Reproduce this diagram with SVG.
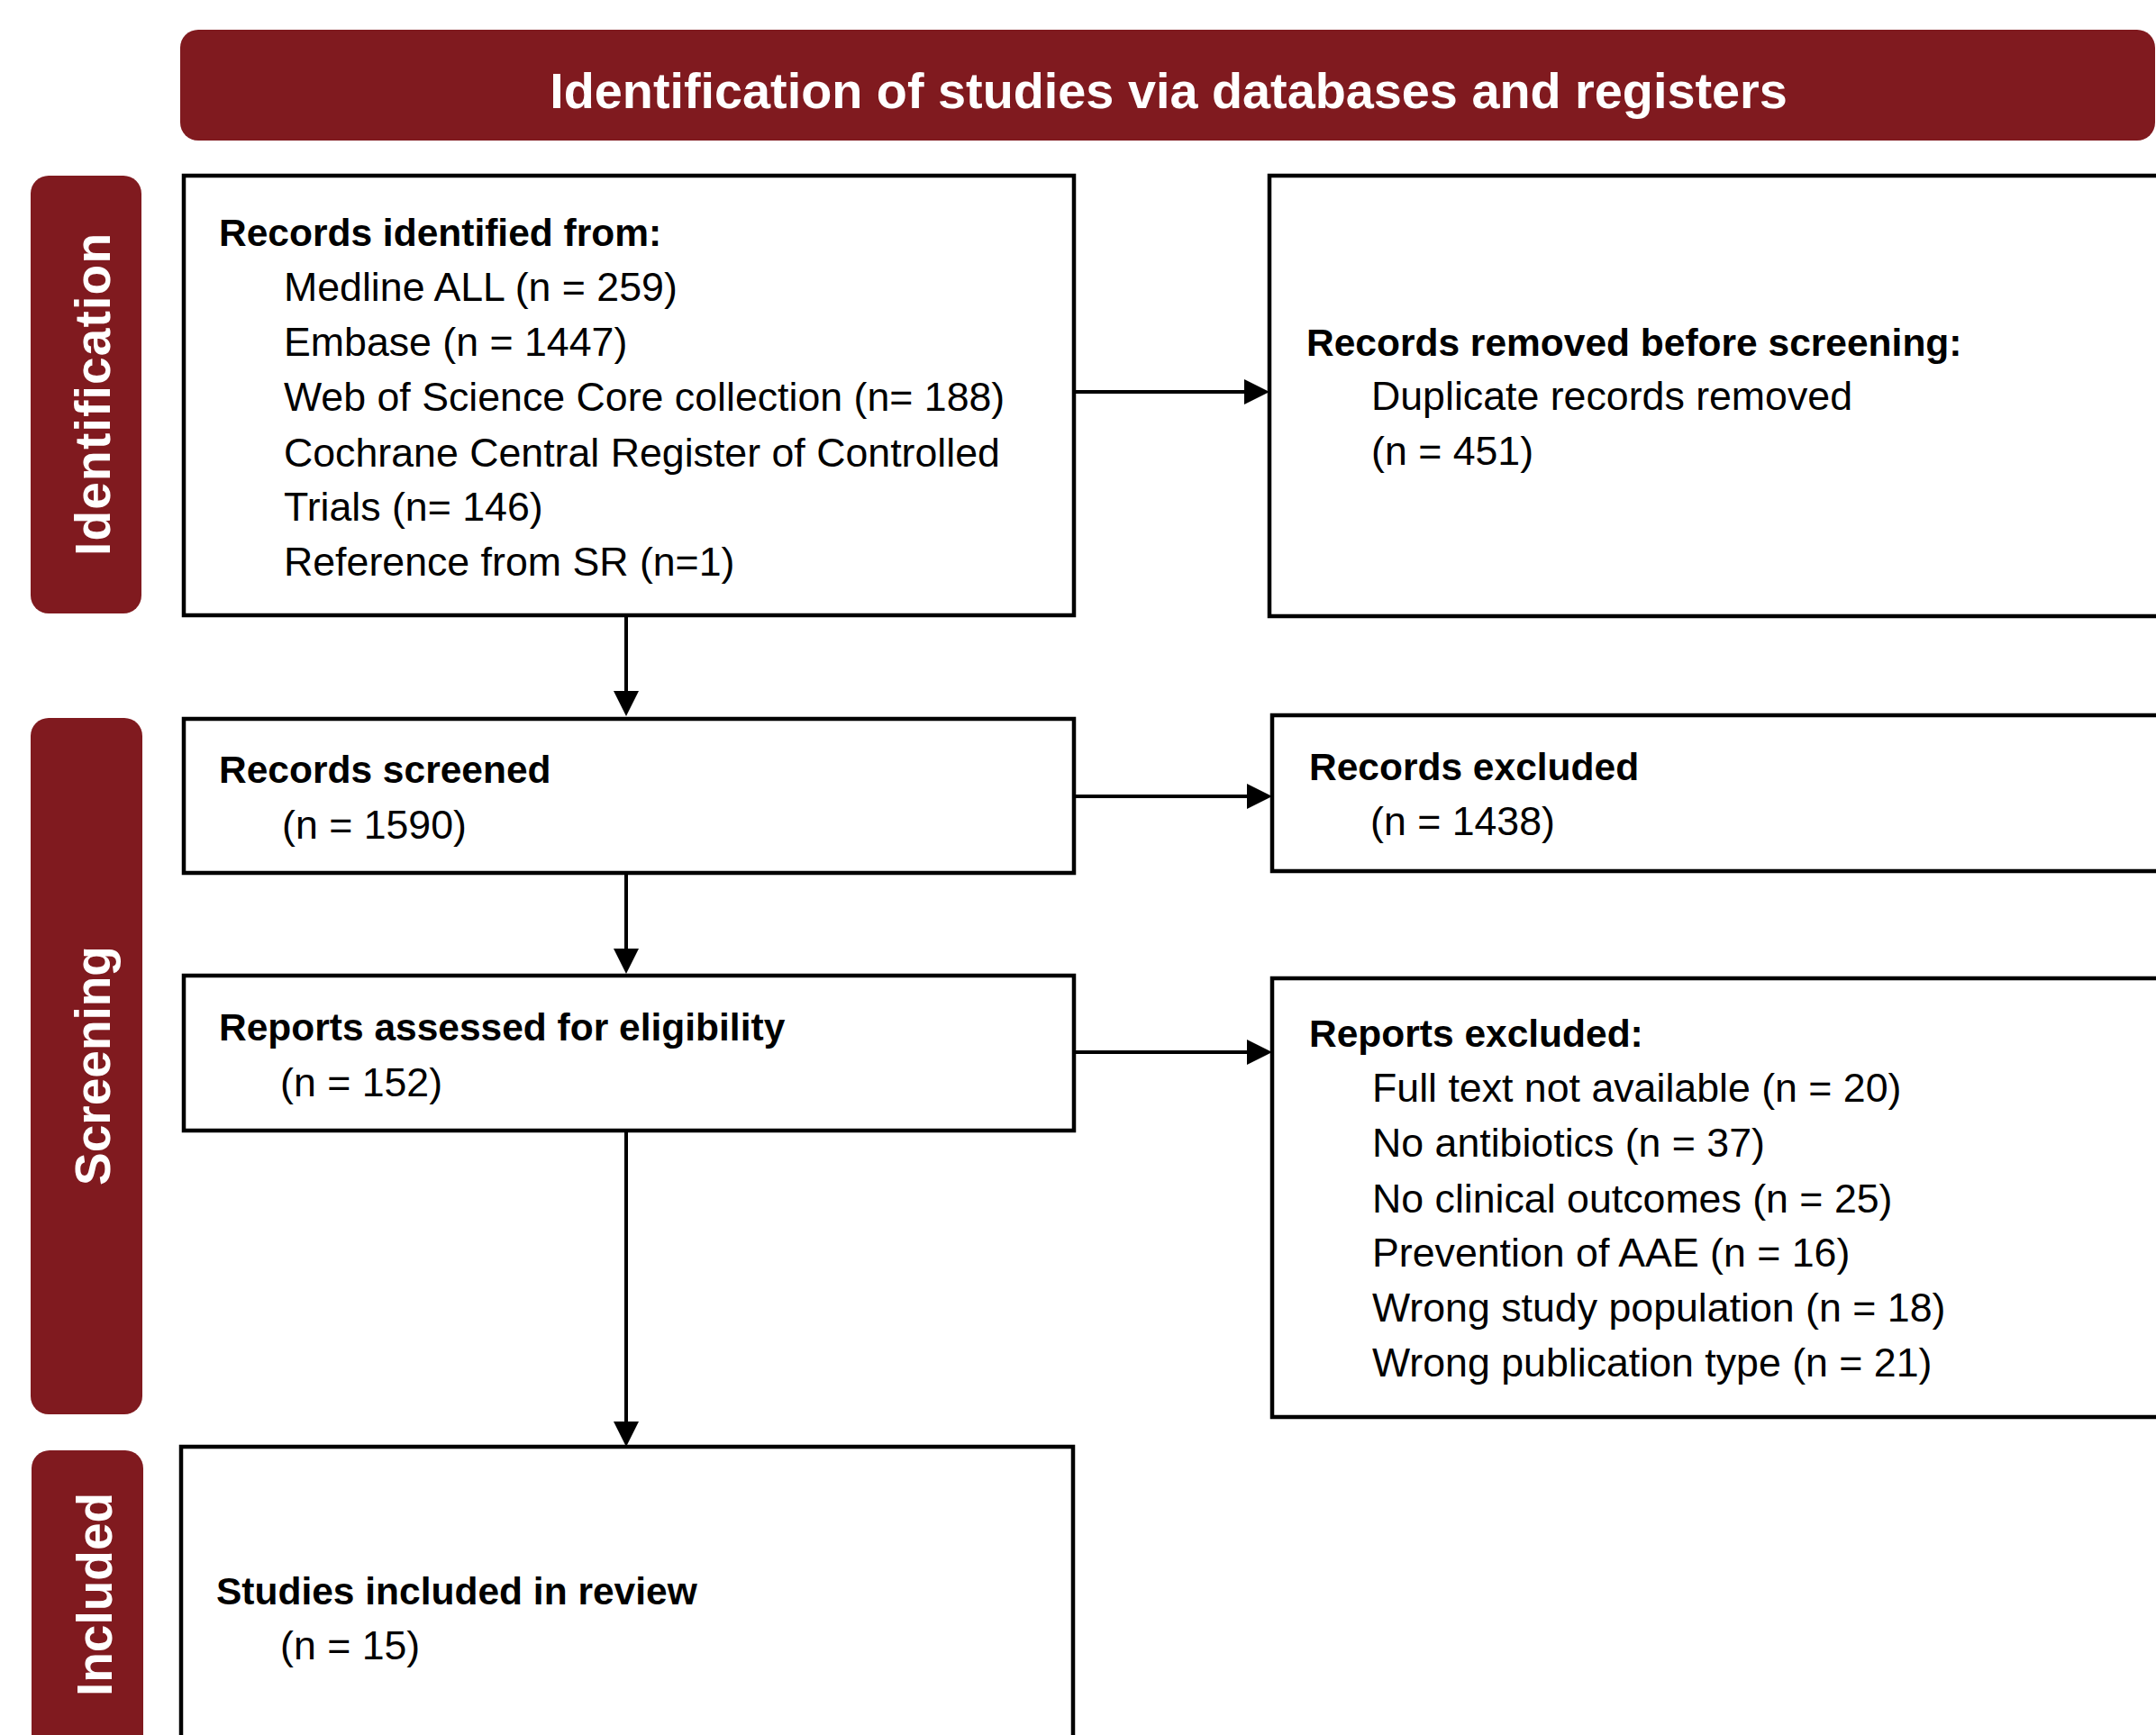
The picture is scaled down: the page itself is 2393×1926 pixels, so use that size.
<svg xmlns="http://www.w3.org/2000/svg" width="2393" height="1926" viewBox="0 0 2393 1926">
<style>
.bar{fill:#801A1F;}
.box{fill:#fff;stroke:#000;stroke-width:4.5;}
.conn{fill:none;stroke:#000;stroke-width:4;}
.t{font-family:"Liberation Sans",Arial,sans-serif;font-size:44.7px;fill:#000;}
.b{font-family:"Liberation Sans",Arial,sans-serif;font-size:42.5px;font-weight:bold;fill:#000;}
.title{font-family:"Liberation Sans",Arial,sans-serif;font-size:55.8px;font-weight:bold;fill:#fff;}
.side{font-family:"Liberation Sans",Arial,sans-serif;font-size:55px;font-weight:bold;fill:#fff;}
</style>
<defs>
<marker id="arrow" markerUnits="userSpaceOnUse" markerWidth="30" markerHeight="30" refX="18" refY="14" orient="auto">
<path d="M0,0 L28,14 L0,28 Z" fill="#000"/>
</marker>
</defs>
<rect width="2393" height="1926" fill="#fff"/>

<g id="header">
<rect class="bar" x="200" y="33" width="2192" height="123" rx="20"/>
<text class="title" x="1297" y="120" text-anchor="middle">Identification of studies via databases and registers</text>
</g>

<g id="phase-identification">
<rect class="bar" x="34" y="195" width="123" height="486" rx="20"/>
<text class="side" transform="translate(122,438) rotate(-90)" text-anchor="middle" textLength="358" lengthAdjust="spacing">Identification</text>
</g>
<g id="phase-screening">
<rect class="bar" x="34" y="797" width="124" height="773" rx="20"/>
<text class="side" transform="translate(122,1183) rotate(-90)" text-anchor="middle">Screening</text>
</g>
<g id="phase-included">
<rect class="bar" x="35" y="1610" width="124" height="340" rx="20"/>
<text class="side" transform="translate(124,1770) rotate(-90)" text-anchor="middle">Included</text>
</g>

<g id="records-identified">
<rect class="box" x="204" y="195" width="988" height="488"/>
<text class="b" x="243" y="273">Records identified from:</text>
<text class="t" x="315" y="334">Medline ALL (n = 259)</text>
<text class="t" x="315" y="395">Embase (n = 1447)</text>
<text class="t" x="315" y="456">Web of Science Core collection (n= 188)</text>
<text class="t" x="315" y="518">Cochrane Central Register of Controlled</text>
<text class="t" x="315" y="578">Trials (n= 146)</text>
<text class="t" x="315" y="639">Reference from SR (n=1)</text>
</g>

<g id="records-removed">
<rect class="box" x="1409" y="195" width="1100" height="489"/>
<text class="b" x="1450" y="395">Records removed before screening:</text>
<text class="t" x="1522" y="455">Duplicate records removed</text>
<text class="t" x="1522" y="516">(n = 451)</text>
</g>

<g id="records-screened">
<rect class="box" x="204" y="798" width="988" height="171"/>
<text class="b" x="243" y="869">Records screened</text>
<text class="t" x="313" y="931">(n = 1590)</text>
</g>

<g id="records-excluded">
<rect class="box" x="1412" y="794" width="1100" height="173"/>
<text class="b" x="1453" y="866">Records excluded</text>
<text class="t" x="1521" y="927">(n = 1438)</text>
</g>

<g id="reports-assessed">
<rect class="box" x="204" y="1083" width="988" height="172"/>
<text class="b" x="243" y="1155">Reports assessed for eligibility</text>
<text class="t" x="311" y="1217">(n = 152)</text>
</g>

<g id="reports-excluded">
<rect class="box" x="1412" y="1086" width="1100" height="487"/>
<text class="b" x="1453" y="1162">Reports excluded:</text>
<text class="t" x="1523" y="1223">Full text not available (n = 20)</text>
<text class="t" x="1523" y="1284">No antibiotics (n = 37)</text>
<text class="t" x="1523" y="1346">No clinical outcomes (n = 25)</text>
<text class="t" x="1523" y="1406">Prevention of AAE (n = 16)</text>
<text class="t" x="1523" y="1467">Wrong study population (n = 18)</text>
<text class="t" x="1523" y="1528">Wrong publication type (n = 21)</text>
</g>

<g id="studies-included">
<rect class="box" x="201" y="1606" width="990" height="400"/>
<text class="b" x="240" y="1781">Studies included in review</text>
<text class="t" x="311" y="1842">(n = 15)</text>
</g>

<g id="connectors">
<path class="conn" d="M1192,435 H1399" marker-end="url(#arrow)"/>
<path class="conn" d="M695,683 V785" marker-end="url(#arrow)"/>
<path class="conn" d="M1192,884 H1402" marker-end="url(#arrow)"/>
<path class="conn" d="M695,969 V1071" marker-end="url(#arrow)"/>
<path class="conn" d="M1192,1168 H1402" marker-end="url(#arrow)"/>
<path class="conn" d="M695,1255 V1596" marker-end="url(#arrow)"/>
</g>
</svg>
